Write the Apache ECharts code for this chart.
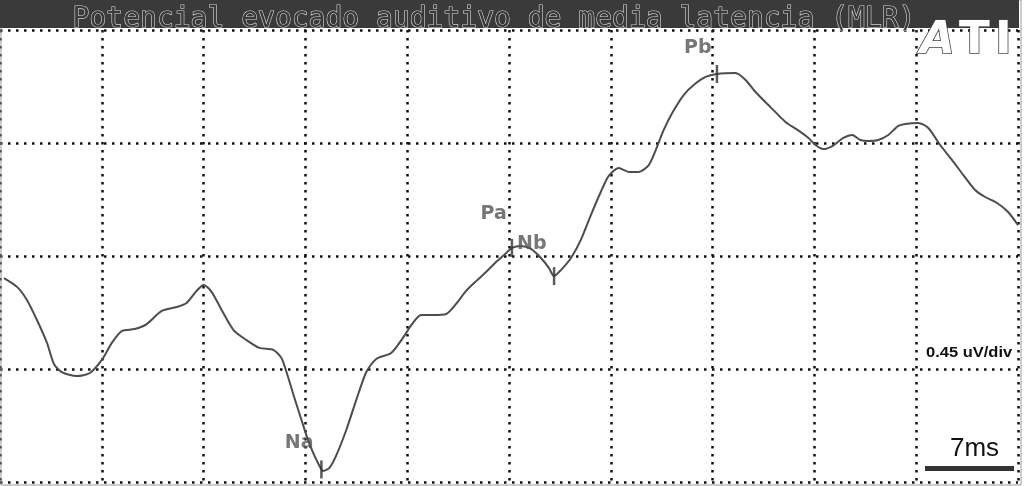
<!DOCTYPE html>
<html>
<head>
<meta charset="utf-8">
<script src="https://cdn.jsdelivr.net/npm/echarts@6/dist/echarts.min.js"></script>
<style>
html, body { margin: 0; padding: 0; background: #fff; }
#mlr { width: 1024px; height: 486px; }
</style>
</head>
<body>
<div id="mlr"></div>
<script>
// waveform (ms / uV)
const timeMs = [0.27, 1.17, 1.85, 2.54, 3.23, 3.71, 4.25, 5.28, 6.18, 7.00,
  7.69, 8.37, 9.26, 10.09, 11.12, 12.15, 12.83, 13.52, 14.00, 14.55,
  15.24, 16.06, 16.95, 17.84, 18.80, 19.35, 19.70, 20.25, 20.73, 21.21,
  21.76, 22.24, 22.65, 23.13, 23.81, 24.50, 25.19, 25.87, 26.90, 27.79,
  28.28, 28.96, 29.79, 30.68, 31.36, 32.05, 32.74, 33.42, 34.11, 34.66,
  35.21, 35.82, 36.51, 37.20, 37.75, 38.09, 38.57, 39.26, 39.94, 40.63,
  41.31, 41.86, 42.55, 43.24, 43.92, 44.61, 45.09, 45.64, 46.26, 47.01,
  47.70, 48.52, 49.28, 50.58, 51.27, 51.95, 52.98, 54.01, 54.84, 55.59,
  56.07, 56.62, 57.24, 57.99, 58.61, 59.16, 59.71, 60.39, 61.08, 61.77,
  62.25, 63.14, 63.83, 64.65, 65.47, 66.23, 67.05, 67.74, 68.56, 69.32, 70.00];
const amplitudeUv = [-0.088, -0.123, -0.175, -0.255, -0.346, -0.430, -0.462, -0.478, -0.466, -0.414,
  -0.346, -0.299, -0.291, -0.271, -0.219, -0.203, -0.187, -0.139, -0.115, -0.143,
  -0.215, -0.295, -0.335, -0.366, -0.374, -0.406, -0.462, -0.566, -0.653, -0.737,
  -0.812, -0.856, -0.844, -0.793, -0.693, -0.573, -0.462, -0.410, -0.386, -0.319,
  -0.275, -0.235, -0.235, -0.231, -0.191, -0.139, -0.100, -0.064, -0.024, 0.004,
  0.032, 0.040, 0.028, -0.008, -0.048, -0.080, -0.056, -0.008, 0.064, 0.163,
  0.255, 0.319, 0.350, 0.335, 0.335, 0.362, 0.422, 0.502, 0.573, 0.641,
  0.681, 0.713, 0.725, 0.729, 0.701, 0.653, 0.593, 0.534, 0.502, 0.470,
  0.442, 0.426, 0.438, 0.470, 0.482, 0.462, 0.458, 0.462, 0.482, 0.518,
  0.526, 0.530, 0.510, 0.442, 0.382, 0.323, 0.263, 0.235, 0.211, 0.175, 0.123];

// marked peaks
const peakNames = ['Na', 'Pa', 'Nb', 'Pb'];
const peakTimes = [22.1, 35.2, 38.1, 49.3];
const peakValues = [-0.85, 0.032, -0.08, 0.725];

// grid: 7 ms/div, 0.45 uV/div
const xMin = 0, xMax = 70, xStep = 7;
const yMin = -0.9, yMax = 0.9, yStep = 0.45;

const titleText = 'Potencial evocado auditivo de media latencia (MLR)';
const gainText = '0.45 uV/div';
const timeText = '7ms';

const labelPos = { Na: [-21, -17], Pa: [-17, -25], Nb: [-21, -23], Pb: [-18, -17] };

const myChart = echarts.init(document.getElementById('mlr'));

const dotted = { color: '#111', width: 2.5, type: [2.5, 5.5] };
const logoStyle = { fill: '#fff', stroke: '#444', lineWidth: 1.6 };

const option = {
  animation: false,
  backgroundColor: '#fff',
  grid: { left: -2, right: 6, top: 30, bottom: 4 },
  xAxis: {
    type: 'value', min: xMin, max: xMax, interval: xStep,
    axisLine: { show: false }, axisTick: { show: false }, axisLabel: { show: false },
    splitLine: { show: true, lineStyle: dotted }
  },
  yAxis: {
    type: 'value', min: yMin, max: yMax, interval: yStep,
    axisLine: { show: false }, axisTick: { show: false }, axisLabel: { show: false },
    splitLine: { show: true, lineStyle: dotted }
  },
  series: [
    {
      type: 'line',
      data: timeMs.map((t, i) => [t, amplitudeUv[i]]),
      showSymbol: false,
      smooth: 0.25,
      lineStyle: { color: '#4d4d4d', width: 2 },
      z: 3
    },
    {
      type: 'scatter',
      data: peakNames.map((n, i) => ({ name: n, value: [peakTimes[i], peakValues[i]],
        label: { position: labelPos[n] } })),
      symbol: 'rect',
      symbolSize: [2.5, 18],
      itemStyle: { color: '#333' },
      label: {
        show: true,
        formatter: p => p.name,
        align: 'center',
        verticalAlign: 'middle',
        fontFamily: 'DejaVu Sans',
        fontWeight: 'bold',
        fontSize: 19,
        color: '#555'
      },
      z: 4
    }
  ],
  graphic: [
    { type: 'rect', shape: { x: 1, y: 0, width: 1020, height: 485 },
      style: { fill: null, stroke: '#999', lineWidth: 1 }, z: 1 },
    { type: 'rect', shape: { x: 0, y: 0, width: 1019, height: 28 },
      style: { fill: '#3a3a3a' }, z: 10 },
    { type: 'text', left: 72, top: 5, z: 11,
      style: { text: titleText, font: '28px "DejaVu Sans Mono"', fill: '#3a3a3a',
        stroke: '#d6d6d6', lineWidth: 1.2 } },
    // ATI logo, outlined letters
    { type: 'text', x: 920, y: 19, z: 11,
      style: Object.assign({ text: 'A', font: 'italic bold 45px "DejaVu Sans"' }, logoStyle) },
    { type: 'text', x: 959, y: 19, z: 11,
      style: Object.assign({ text: 'T', font: 'bold 45px "DejaVu Sans"' }, logoStyle) },
    { type: 'text', x: 995, y: 19, z: 11,
      style: Object.assign({ text: 'I', font: 'bold 45px "DejaVu Sans"' }, logoStyle) },
    { type: 'text', x: 926, y: 345, scaleX: 1.1, z: 11,
      style: { text: gainText, font: 'bold 15px "Liberation Sans"', fill: '#111' } },
    { type: 'text', left: 950, top: 436, z: 11,
      style: { text: timeText, font: '26px "Liberation Sans"', fill: '#111' } },
    { type: 'rect', shape: { x: 925, y: 466, width: 89, height: 5 },
      style: { fill: '#333' }, z: 11 }
  ]
};

option && myChart.setOption(option);
</script>
</body>
</html>
